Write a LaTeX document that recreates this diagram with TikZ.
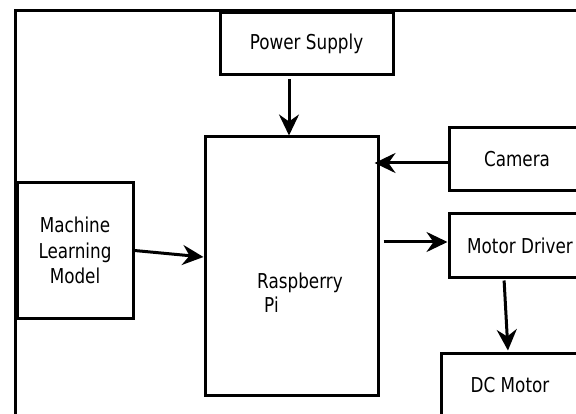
\documentclass[tikz,border=0pt]{standalone}
\usepackage{fontspec}
\setmainfont{DejaVu Sans}[FakeStretch=0.82]
\usetikzlibrary{arrows.meta}

\begin{document}
\begin{tikzpicture}[
        x=1pt, y=1pt,
        every node/.style={font=\fontsize{20.5}{25.5}\selectfont},
        block/.style={draw, line width=3pt, rectangle, align=center, inner sep=0pt},
        arr/.style={line width=3pt, -{Stealth[length=21pt, width=20pt, inset=7pt]}},
    ]
    \useasboundingbox (0,0) rectangle (576,413);
    \clip (0,0) rectangle (576,413);

    \draw[line width=3pt] (15,-5) -- (15,402) -- (600,402);

    \node[block, minimum width=173pt, minimum height=62pt] (supply) at (306.5,369) {Power Supply};
    \node[block, minimum width=173pt, minimum height=258pt] (pi) at (291.5,147) {};
    \node[align=left, font=\fontsize{20.5}{24}\selectfont] (pitext) at (300,120) {Raspberry\\\hspace*{7pt}Pi};
    \node[block, minimum width=136pt, minimum height=63pt] (camera) at (517,253.5) {Camera};
    \node[block, minimum width=142pt, minimum height=63pt] (driver) at (520,167.5) {Motor Driver};
    \node[block, minimum width=138pt, minimum height=64pt] (motor) at (510,28) {DC Motor};
    \node[block, minimum width=116pt, minimum height=135pt] (model) at (75,162.5) {Machine\\Learning\\Model};

    \coordinate (camout) at ([yshift=-3.5pt]camera.west);
    \coordinate (drvin) at ([yshift=3.5pt]driver.west);

    \draw[arr, shorten <=3pt] ([xshift=-17.5pt]supply.south) -- ([xshift=-2.5pt]pi.north);
    \draw[arr, shorten >=-5pt] (camout) -- (camout -| pi.east);
    \draw[arr, shorten <=4pt] (drvin -| pi.east) -- (drvin);
    \draw[arr] (model.east) -- ([yshift=9pt]pi.west);
    \draw[arr, shorten <=2pt, shorten >=1pt] ([xshift=-16pt]driver.south) -- ([xshift=-2pt]motor.north);

\end{tikzpicture}
\end{document}
